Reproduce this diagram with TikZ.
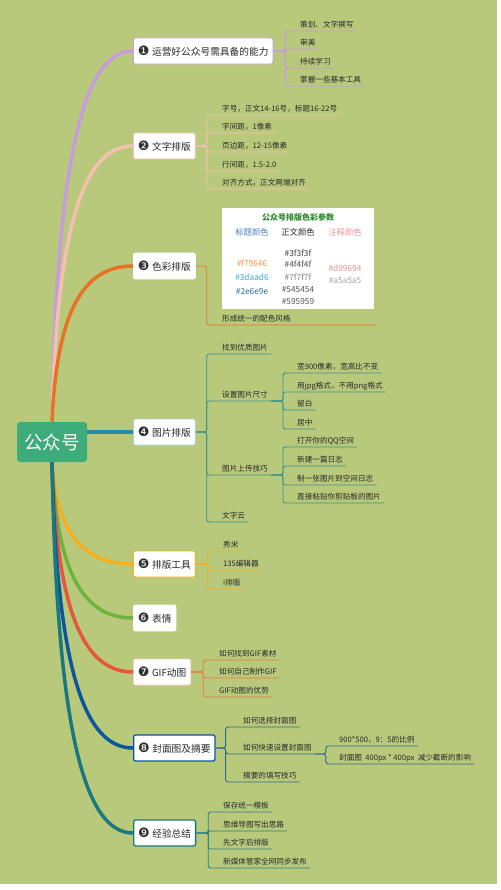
\documentclass[tikz,border=0pt]{standalone}
\usepackage{fontspec}
\setmainfont{Noto Sans CJK SC}
\newfontfamily\dejavu{DejaVu Sans}
\usepackage{xcolor}
\usepackage{tikz}
\definecolor{bggreen}{RGB}{185,201,124}
\definecolor{hubgreen}{RGB}{62,172,122}
\definecolor{brlilac}{RGB}{200,155,222}
\definecolor{brpink}{RGB}{245,192,178}
\definecolor{brorange}{RGB}{232,114,38}
\definecolor{brteal}{RGB}{38,140,165}
\definecolor{bryellow}{RGB}{246,176,30}
\definecolor{brgreen}{RGB}{108,180,60}
\definecolor{brred}{RGB}{230,86,58}
\definecolor{brblue}{RGB}{12,86,156}
\definecolor{brcyan}{RGB}{26,120,126}
\definecolor{twigteal}{RGB}{55,145,140}
\definecolor{twigorange}{RGB}{225,125,60}
\definecolor{twigblue}{RGB}{45,105,140}
\definecolor{twigcyan}{RGB}{40,130,130}
\definecolor{numgray}{RGB}{50,50,50}
\definecolor{leafgray}{RGB}{40,40,40}
\definecolor{ttlgreen}{RGB}{40,140,40}
\definecolor{hdrblue}{RGB}{70,130,190}
\definecolor{hdrpink}{RGB}{230,150,150}
\definecolor{hexa}{HTML}{F79646}
\definecolor{hexb}{HTML}{3DAAD6}
\definecolor{hexc}{HTML}{2E6E9E}
\definecolor{hexd}{HTML}{3F3F3F}
\definecolor{hexe}{HTML}{4F4F4F}
\definecolor{hexf}{HTML}{7F7F7F}
\definecolor{hexg}{HTML}{545454}
\definecolor{hexh}{HTML}{595959}
\definecolor{hexi}{HTML}{D99694}
\definecolor{hexj}{HTML}{A5A5A5}
\newcommand\topicnum[1]{{\dejavu\fontsize{13}{11}\selectfont\color{numgray}\raisebox{-0.6pt}{#1}}\hspace{2.5pt}}

\begin{document}
\begin{tikzpicture}[x=1pt,y=-1pt,
  hub/.style={fill=hubgreen, text=white, rounded corners=3pt, minimum width=70pt, minimum height=40pt, font=\fontsize{18.5}{20}\selectfont},
  topic/.style={fill=white, draw=#1, line width=0.8pt, rounded corners=2pt, anchor=west, minimum height=26pt, inner xsep=4.5pt, font=\fontsize{9.7}{11}\selectfont, text=leafgray},
  leaf/.style={anchor=south west, inner xsep=3pt, inner ysep=2pt, text height=6pt, text depth=1.5pt, font=\fontsize{7.6}{9}\selectfont, text=leafgray},
  hexcode/.style={font=\fontsize{8.3}{9}\selectfont, inner sep=0pt},
  branch/.style={draw=#1, line width=3.5pt},
  twig/.style={draw=#1, line width=0.9pt, rounded corners=2.5pt}]
\fill[white] (0,0) rectangle (500,890);
\fill[bggreen] (0,0) rectangle (497,884);

\node[hub] (hub) at (52,442) {公众号};

\node[topic=brlilac] (t1) at (133,51) {\topicnum{❶}运营好公众号需具备的能力};
\node[topic=brpink] (t2) at (133,146) {\topicnum{❷}文字排版};
\node[topic=white] (t3) at (133,266) {\topicnum{❸}色彩排版};
\node[topic=brteal!40!white] (t4) at (133,432) {\topicnum{❹}图片排版};
\node[topic=bryellow] (t5) at (133,564) {\topicnum{❺}排版工具};
\node[topic=white] (t6) at (133,618) {\topicnum{❻}表情};
\node[topic=brred!30!white] (t7) at (133,672) {\topicnum{❼}GIF动图};
\node[topic=brblue, line width=1.3pt] (t8) at (133,748) {\topicnum{❽}封面图及摘要};
\node[topic=brcyan, line width=1.3pt] (t9) at (133,833) {\topicnum{❾}经验总结};

\draw[branch=brlilac] (hub.north) .. controls +(5,-272) and +(-48,0) .. (t1.west);
\draw[branch=brpink] (hub.north) .. controls +(5,-200) and +(-48,0) .. (t2.west);
\draw[branch=brorange] (hub.north) .. controls +(5,-114) and +(-48,0) .. (t3.west);
\draw[branch=brteal] (hub.east |- t4.west) -- (t4.west);
\draw[branch=bryellow] (hub.south) .. controls +(5,74) and +(-48,0) .. (t5.west);
\draw[branch=brgreen] (hub.south) .. controls +(5,114) and +(-48,0) .. (t6.west);
\draw[branch=brred] (hub.south) .. controls +(5,153) and +(-48,0) .. (t7.west);
\draw[branch=brblue] (hub.south) .. controls +(5,209) and +(-48,0) .. (t8.west);
\draw[branch=brcyan] (hub.south) .. controls +(5,271) and +(-48,0) .. (t9.west);

\node[leaf] (c1a) at (297,31) {策划、文字撰写};
\node[leaf] (c1b) at (297,49) {审美};
\node[leaf] (c1c) at (297,68) {持续学习};
\node[leaf] (c1d) at (297,86) {掌握一些基本工具};
\foreach \c in {c1a,c1b,c1c,c1d}
  \draw[twig=brlilac] (t1.east) -- ++(12,0) |- (\c.south east);

\node[leaf] (c2a) at (219,115) {字号，正文14-16号，标题16-22号};
\node[leaf] (c2b) at (219,133) {字间距，1像素};
\node[leaf] (c2c) at (219,152) {页边距，12-15像素};
\node[leaf] (c2d) at (219,171) {行间距，1.5-2.0};
\node[leaf] (c2e) at (219,189) {对齐方式，正文两端对齐};
\foreach \c in {c2a,c2b,c2c,c2d,c2e}
  \draw[twig=brpink] (t2.east) -- ++(11,0) |- (\c.south east);

\node[fill=white, anchor=north west, minimum width=152pt, minimum height=101pt, inner sep=0pt] (tab) at (222,208) {};
\node[font=\fontsize{8}{9}\selectfont\bfseries, text=ttlgreen, inner sep=0pt] (tabttl) at (298,217) {公众号排版色彩参数};
\node[hexcode, text=hdrblue] (hdra) at (252,232) {标题颜色};
\node[hexcode, text=leafgray] (hdrb) at (298,232) {正文颜色};
\node[hexcode, text=hdrpink] (hdrc) at (345,232) {注释颜色};
\node[hexcode, text=hexa] (hexa) at (252,263) {\#f79646};
\node[hexcode, text=hexb] (hexb) at (252,277) {\#3daad6};
\node[hexcode, text=hexc] (hexc) at (252,292) {\#2e6e9e};
\node[hexcode, text=hexd] (hexd) at (298,253) {\#3f3f3f};
\node[hexcode, text=hexe] (hexe) at (298,264) {\#4f4f4f};
\node[hexcode, text=hexf] (hexf) at (298,277) {\#7f7f7f};
\node[hexcode, text=hexg] (hexg) at (298,290) {\#545454};
\node[hexcode, text=hexh] (hexh) at (298,302) {\#595959};
\node[hexcode, text=hexi] (hexi) at (345,268) {\#d99694};
\node[hexcode, text=hexj] (hexj) at (345,281) {\#a5a5a5};
\node[leaf, text width=151pt, align=left] (c3a) at (219,325) {形成统一的配色风格};
\draw[twig=brorange] (t3.east) -- ++(11,0) |- (c3a.south east);

\node[leaf] (c4a) at (219,354) {找到优质图片};
\node[leaf] (c4b) at (219,401) {设置图片尺寸};
\node[leaf] (c4c) at (219,475) {图片上传技巧};
\node[leaf] (c4d) at (219,522) {文字云};
\foreach \c in {c4a,c4b,c4c,c4d}
  \draw[twig=twigteal] (t4.east) -- ++(11,0) |- (\c.south east);
\node[leaf] (d4a) at (294,373) {宽900像素，宽高比不变};
\node[leaf] (d4b) at (294,392) {用jpg格式，不用png格式};
\node[leaf] (d4c) at (294,410) {留白};
\node[leaf] (d4d) at (294,429) {居中};
\foreach \c in {d4a,d4b,d4c,d4d}
  \draw[twig=twigteal] (c4b.south east) -- ++(12,0) |- (\c.south east);
\node[leaf] (e4a) at (294,447) {打开你的QQ空间};
\node[leaf] (e4b) at (294,466) {新建一篇日志};
\node[leaf] (e4c) at (294,485) {制一张图片到空间日志};
\node[leaf] (e4d) at (294,503) {直接粘贴你剪贴板的图片};
\foreach \c in {e4a,e4b,e4c,e4d}
  \draw[twig=twigteal] (c4c.south east) -- ++(12,0) |- (\c.south east);

\node[leaf] (c5a) at (220,551) {秀米};
\node[leaf] (c5b) at (220,570) {135编辑器};
\node[leaf] (c5c) at (220,589) {i排版};
\foreach \c in {c5a,c5b,c5c}
  \draw[twig=bryellow] (t5.east) -- ++(12,0) |- (\c.south east);

\node[leaf] (c7a) at (216,660) {如何找到GIF素材};
\node[leaf] (c7b) at (216,678) {如何自己制作GIF};
\node[leaf] (c7c) at (216,697) {GIF动图的优势};
\foreach \c in {c7a,c7b,c7c}
  \draw[twig=twigorange] (t7.east) -- ++(12,0) |- (\c.south east);

\node[leaf] (c8a) at (240,727) {如何选择封面图};
\node[leaf] (c8b) at (240,754) {如何快速设置封面图};
\node[leaf] (c8c) at (240,782) {摘要的填写技巧};
\foreach \c in {c8a,c8b,c8c}
  \draw[twig=twigblue] (t8.east) -- ++(10,0) |- (\c.south east);
\node[leaf] (d8a) at (336,746) {900*500，9：5的比例};
\node[leaf] (d8b) at (336,764) {封面图~~400px~*~400px~~减少截断的影响};
\foreach \c in {d8a,d8b}
  \draw[twig=twigblue] (c8b.south east) -- ++(11,0) |- (\c.south east);

\node[leaf] (c9a) at (220,812) {保存统一模板};
\node[leaf] (c9b) at (220,831) {思维导图写出思路};
\node[leaf] (c9c) at (220,849) {先文字后排版};
\node[leaf] (c9d) at (220,868) {新媒体管家全网同步发布};
\foreach \c in {c9a,c9b,c9c,c9d}
  \draw[twig=twigcyan] (t9.east) -- ++(12,0) |- (\c.south east);
\end{tikzpicture}
\end{document}
